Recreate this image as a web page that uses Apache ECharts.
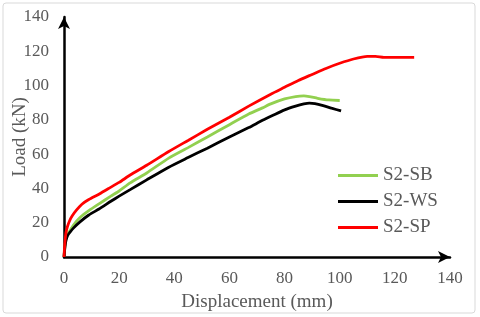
<!DOCTYPE html>
<html><head><meta charset="utf-8">
<script src="https://cdn.jsdelivr.net/npm/echarts@6/dist/echarts.min.js"></script>
<style>html,body{margin:0;padding:0;background:#fff}#c{width:480px;height:317px}</style>
</head><body><div id="c"></div>
<script>
const seriesNames = ['S2-SB', 'S2-WS', 'S2-SP'];
const sbData = [[0,0],[0.3,6],[0.7,10.5],[1.2,13],[2.2,15.5],[3.5,18.8],[5.8,23],[9,27],[12.7,31],[17,35.5],[20,38.5],[24,43.2],[30,49],[38,57.7],[45,63.8],[52,70],[60,77.2],[67,83.4],[72,87],[75,89.3],[80,92.2],[84,93.6],[87,94],[89,93.6],[92,92.6],[96,91.6],[100,91.3]];
const wsData = [[0,0],[0.3,5],[0.7,9.5],[1.3,12.5],[2.2,14.5],[3.5,17],[5.8,20.5],[9,24.5],[12.7,28],[17,32.5],[20,35.5],[24,39.3],[30,45],[38,52.4],[45,58],[52,63.5],[60,70],[67,75.5],[72,79.7],[76,82.8],[80,85.8],[84,88],[87,89.3],[89,89.8],[91,89.5],[94,88.3],[97,86.8],[100.5,85.2]];
const spData = [[0,0],[0.3,8],[0.7,14],[1.2,17.5],[2,21],[3,24],[4.5,27.3],[6.5,30.8],[9,33.5],[12.5,36.5],[16,39.8],[20,43.5],[24,47.8],[30,53.5],[38,61.5],[45,68],[52,74.5],[60,81.5],[67,88],[75,95],[80,99],[85,103],[90,106.5],[95,110],[100,113],[105,115.5],[110,117],[113,117],[116,116.4],[120,116.4],[127,116.4]];
const xTicks = {min: 0, max: 140, interval: 20};
const yTicks = {min: 0, max: 140, interval: 20};
const colors = ['#92D050', '#000000', '#FF0000'];

const chart = echarts.init(document.getElementById('c'), null, {renderer: 'canvas'});
const font = 'Liberation Serif';
const mkSeries = (name, data, color) => ({
  name, type: 'line', data, symbol: 'none', smooth: 0.2,
  lineStyle: {color, width: 2.8}, itemStyle: {color}, z: 3
});
chart.setOption({
  animation: false,
  backgroundColor: '#fff',
  graphic: [{type: 'rect', shape: {x: 3, y: 3, width: 472, height: 310, r: 3},
    style: {fill: 'none', stroke: '#d9d9d9', lineWidth: 1}, z: -1}],
  grid: {left: 64, right: 30, top: 17, bottom: 60, containLabel: false, outerBoundsMode: 'none'},
  legend: {
    orient: 'vertical', left: 338, top: 166, padding: 0,
    icon: 'rect', itemWidth: 40, itemHeight: 3, itemGap: 7,
    textStyle: {fontFamily: font, fontSize: 19, color: '#595959', padding: [0,0,0,0]},
    data: seriesNames
  },
  xAxis: {
    type: 'value', min: xTicks.min, max: xTicks.max, interval: xTicks.interval,
    name: 'Displacement (mm)', nameLocation: 'middle', nameGap: 36,
    nameTextStyle: {fontFamily: font, fontSize: 19, color: '#595959'},
    axisLine: {show: true, lineStyle: {color: '#000', width: 2.5}, symbol: ['none', 'arrow'], symbolSize: [9, 12]},
    axisTick: {show: false}, splitLine: {show: false},
    axisLabel: {fontFamily: font, fontSize: 17, color: '#595959', margin: 13}
  },
  yAxis: {
    type: 'value', min: yTicks.min, max: yTicks.max, interval: yTicks.interval,
    name: 'Load (kN)', nameLocation: 'middle', nameGap: 44, nameRotate: 90, nameMoveOverlap: false,
    nameTextStyle: {fontFamily: font, fontSize: 19, color: '#595959', verticalAlign: 'middle'},
    axisLine: {show: true, lineStyle: {color: '#000', width: 2.5}, symbol: ['none', 'arrow'], symbolSize: [9, 12]},
    axisTick: {show: false}, splitLine: {show: false},
    axisLabel: {fontFamily: font, fontSize: 17, color: '#595959', margin: 15}
  },
  series: [
    mkSeries(seriesNames[0], sbData, colors[0]),
    mkSeries(seriesNames[1], wsData, colors[1]),
    mkSeries(seriesNames[2], spData, colors[2])
  ]
});
</script></body></html>
